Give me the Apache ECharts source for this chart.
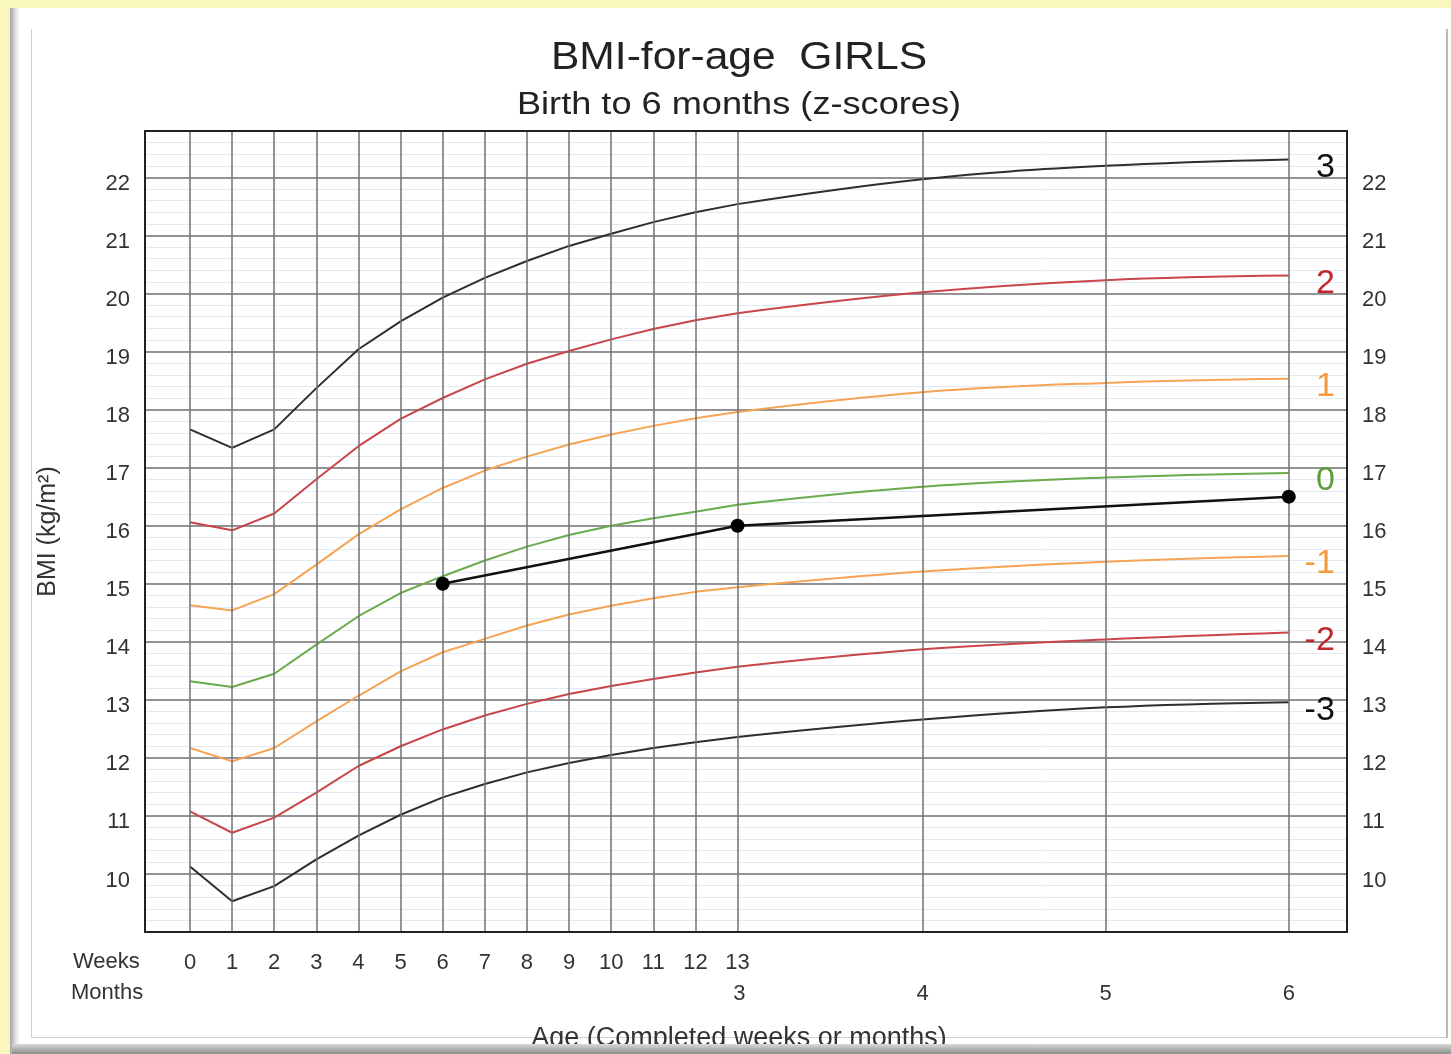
<!DOCTYPE html>
<html>
<head>
<meta charset="utf-8">
<script src="https://cdn.jsdelivr.net/npm/echarts@6/dist/echarts.min.js"></script>
<style>
html,body{margin:0;padding:0;width:1451px;height:1054px;overflow:hidden;background:#f9f7bd;}
#card{position:absolute;left:10px;top:8px;width:1441px;height:1046px;background:#fff;}
#lshadow{position:absolute;left:10px;top:8px;width:10px;height:1046px;background:linear-gradient(to right,#a4a4a4,#e4e4e4 60%,#fff);}
#frame{position:absolute;left:31px;top:29px;width:1414px;height:1008px;border-left:1px solid #d0d0d0;border-right:2px solid #b8b8b8;border-bottom:1px solid #cfcfcf;}
#chart{position:absolute;left:0;top:0;width:1451px;height:1054px;}
#bshadow{position:absolute;left:12px;top:1044px;width:1439px;height:10px;background:linear-gradient(to bottom,#dadada,#8c8c8c);}
</style>
</head>
<body>
<div id="card"></div>
<div id="lshadow"></div>
<div id="frame"></div>
<div id="chart"></div>
<div id="bshadow"></div>
<script>
// ---- axis ticks ----
const weeks = [0,1,2,3,4,5,6,7,8,9,10,11,12,13];
const weekTickLabels = ['0','1','2','3','4','5','6','7','8','9','10','11','12','13'];
const months = [3,4,5,6];
const monthTickLabels = ['3','4','5','6'];
const tailMonths = [4,5,6];           // monthly points after week 13
const DAYS_PER_WEEK = 7;
const DAYS_PER_MONTH = 30.4375;
const bmiTicks = [10,11,12,13,14,15,16,17,18,19,20,21,22];

// ---- z-score curves: weekly values (weeks 0..13) and monthly values (months 4..6) ----
const sdNeg3Weekly = [10.13, 9.53, 9.79, 10.25, 10.66, 11.02, 11.32, 11.55, 11.75, 11.91, 12.05, 12.17, 12.27, 12.36];
const sdNeg3Monthly = [12.66, 12.87, 12.96];
const sdNeg2Weekly = [11.08, 10.71, 10.97, 11.40, 11.86, 12.20, 12.49, 12.73, 12.93, 13.10, 13.24, 13.36, 13.47, 13.57];
const sdNeg2Monthly = [13.87, 14.04, 14.16];
const sdNeg1Weekly = [12.17, 11.94, 12.17, 12.63, 13.07, 13.49, 13.82, 14.05, 14.28, 14.47, 14.62, 14.75, 14.86, 14.94];
const sdNeg1Monthly = [15.21, 15.38, 15.48];
const sd0Weekly = [13.32, 13.22, 13.45, 13.95, 14.44, 14.84, 15.13, 15.40, 15.64, 15.84, 16.00, 16.13, 16.24, 16.36];
const sd0Monthly = [16.67, 16.83, 16.91];
const sd1Weekly = [14.63, 14.54, 14.82, 15.33, 15.85, 16.28, 16.65, 16.95, 17.19, 17.40, 17.57, 17.72, 17.85, 17.96];
const sd1Monthly = [18.30, 18.46, 18.53];
const sd2Weekly = [16.06, 15.92, 16.21, 16.80, 17.37, 17.84, 18.20, 18.52, 18.79, 19.01, 19.21, 19.39, 19.54, 19.66];
const sd2Monthly = [20.02, 20.23, 20.31];
const sd3Weekly = [17.66, 17.34, 17.66, 18.37, 19.04, 19.52, 19.93, 20.27, 20.56, 20.82, 21.03, 21.23, 21.40, 21.54];
const sd3Monthly = [21.97, 22.20, 22.31];

const zLabels = ['-3','-2','-1','0','1','2','3'];

// ---- patient measurements ----
const patientAgeUnits = ['week','week','month'];
const patientAgeValues = [6, 13, 6];
const patientBMI = [15.0, 16.0, 16.5];

// ---- styles ----
const FONT = '"Liberation Sans", Arial, Helvetica, sans-serif';
const BLACK = '#2e2e2e', RED = '#c8454a', ORANGE = '#f5a455', GREEN = '#6aab4c';
const curves = [
  {label: zLabels[0], weekly: sdNeg3Weekly, monthly: sdNeg3Monthly, color: BLACK, labelColor: '#111'},
  {label: zLabels[1], weekly: sdNeg2Weekly, monthly: sdNeg2Monthly, color: RED, labelColor: '#c1272d'},
  {label: zLabels[2], weekly: sdNeg1Weekly, monthly: sdNeg1Monthly, color: ORANGE, labelColor: '#f39a3c'},
  {label: zLabels[3], weekly: sd0Weekly, monthly: sd0Monthly, color: GREEN, labelColor: '#5b9e3a'},
  {label: zLabels[4], weekly: sd1Weekly, monthly: sd1Monthly, color: ORANGE, labelColor: '#f39a3c'},
  {label: zLabels[5], weekly: sd2Weekly, monthly: sd2Monthly, color: RED, labelColor: '#c1272d'},
  {label: zLabels[6], weekly: sd3Weekly, monthly: sd3Monthly, color: BLACK, labelColor: '#111'}
];

const weekDays = weeks.map(w => w * DAYS_PER_WEEK);
const monthDays = months.map(m => m * DAYS_PER_MONTH);
const tailDays = tailMonths.map(m => m * DAYS_PER_MONTH);

const series = [];
// vertical grid lines (weeks and months)
const vLines = weekDays.concat(tailDays);
series.push({
  type: 'line', data: [], z: 1, silent: true,
  markLine: {
    silent: true, symbol: ['none','none'], animation: false,
    label: {show: false},
    lineStyle: {color: '#727272', width: 1.5, type: 'solid'},
    emphasis: {disabled: true},
    data: vLines.map(d => ({xAxis: d}))
  }
});

curves.forEach(c => {
  series.push({
    name: 'z' + c.label, type: 'line', xAxisIndex: 0, yAxisIndex: 1,
    data: weekDays.map((d, i) => [d, c.weekly[i]]),
    symbol: 'none', smooth: false, z: 3,
    lineStyle: {color: c.color, width: 2},
    itemStyle: {color: c.color}
  });
  const tail = [[weekDays[weekDays.length - 1], c.weekly[c.weekly.length - 1]]]
    .concat(tailDays.map((d, i) => [d, c.monthly[i]]));
  series.push({
    name: 'z' + c.label + ' tail', type: 'line', xAxisIndex: 0, yAxisIndex: 1,
    data: tail, symbol: 'none', smooth: 0.4, z: 3,
    lineStyle: {color: c.color, width: 2},
    itemStyle: {color: c.color},
    endLabel: {
      show: true, formatter: () => c.label, color: c.labelColor,
      fontSize: 34, fontFamily: FONT, align: 'right', distance: 46, offset: [0, 8]
    }
  });
});

const patientDays = patientAgeValues.map((v, i) => v * (patientAgeUnits[i] === 'week' ? DAYS_PER_WEEK : DAYS_PER_MONTH));
series.push({
  name: 'Patient', type: 'line', xAxisIndex: 0, yAxisIndex: 1,
  data: patientDays.map((d, i) => [d, patientBMI[i]]),
  symbol: 'circle', symbolSize: 14, z: 6,
  lineStyle: {color: '#111', width: 2.5},
  itemStyle: {color: '#000'}
});

const X_MIN = -7.48, X_MAX = 192.3, Y_MIN = 9, Y_MAX = 22.8;
const tickText = {fontSize: 22, color: '#333', fontFamily: FONT};

const option = {
  animation: false,
  backgroundColor: 'transparent',
  grid: {left: 145, top: 131, width: 1202, height: 801, show: true, borderColor: '#222', borderWidth: 2, backgroundColor: 'transparent', z: 10},
  xAxis: [
    {type: 'value', min: X_MIN, max: X_MAX, position: 'bottom',
     axisLine: {show: false}, axisTick: {show: false}, splitLine: {show: false},
     axisLabel: Object.assign({customValues: weekDays, margin: 20,
       formatter: v => weekTickLabels[weekDays.findIndex(d => Math.abs(d - v) < 0.01)] || ''}, tickText)},
    {type: 'value', min: X_MIN, max: X_MAX, position: 'bottom',
     axisLine: {show: false}, axisTick: {show: false}, splitLine: {show: false},
     axisLabel: Object.assign({customValues: monthDays, margin: 51,
       formatter: v => monthTickLabels[monthDays.findIndex(d => Math.abs(d - v) < 0.01)] || ''}, tickText)}
  ],
  yAxis: [
    {type: 'value', min: Y_MIN, max: Y_MAX, interval: 0.2, position: 'left', z: 0,
     axisLine: {show: false}, axisTick: {show: false}, axisLabel: {show: false},
     splitLine: {show: true, showMinLine: false, showMaxLine: false, lineStyle: {color: '#e4eaf5', width: 1}}},
    {type: 'value', min: Y_MIN, max: Y_MAX, interval: 1, position: 'left', z: 1,
     axisLine: {show: false}, axisTick: {show: false},
     axisLabel: Object.assign({margin: 15, verticalAlign: 'top', lineHeight: 13, formatter: v => bmiTicks.includes(v) ? String(v) : ''}, tickText),
     splitLine: {show: true, showMinLine: false, showMaxLine: false, lineStyle: {color: '#727272', width: 1.5}},
     name: 'BMI (kg/m²)', nameLocation: 'middle', nameGap: 84, nameRotate: 90,
     nameTextStyle: {fontSize: 25, color: '#333', fontFamily: FONT}},
    {type: 'value', min: Y_MIN, max: Y_MAX, interval: 1, position: 'right', z: 1,
     axisLine: {show: false}, axisTick: {show: false}, splitLine: {show: false},
     axisLabel: Object.assign({margin: 15, verticalAlign: 'top', lineHeight: 13, formatter: v => bmiTicks.includes(v) ? String(v) : ''}, tickText)}
  ],
  graphic: [
    {type: 'text', x: 739, y: 59, scaleX: 1.12, style: {text: 'BMI-for-age  GIRLS', textAlign: 'center', textVerticalAlign: 'middle', font: '38px ' + FONT, fill: '#222'}},
    {type: 'text', x: 739, y: 105, scaleX: 1.13, style: {text: 'Birth to 6 months (z-scores)', textAlign: 'center', textVerticalAlign: 'middle', font: '32px ' + FONT, fill: '#222'}},
    {type: 'text', x: 73, y: 962, style: {text: 'Weeks', textAlign: 'left', textVerticalAlign: 'middle', font: '22px ' + FONT, fill: '#333'}},
    {type: 'text', x: 71, y: 993, style: {text: 'Months', textAlign: 'left', textVerticalAlign: 'middle', font: '22px ' + FONT, fill: '#333'}},
    {type: 'text', x: 739, y: 1039, style: {text: 'Age (Completed weeks or months)', textAlign: 'center', textVerticalAlign: 'middle', font: '27px ' + FONT, fill: '#333'}}
  ],
  series: series
};

const chart = echarts.init(document.getElementById('chart'), null, {renderer: 'canvas'});
chart.setOption(option);
</script>
</body>
</html>
